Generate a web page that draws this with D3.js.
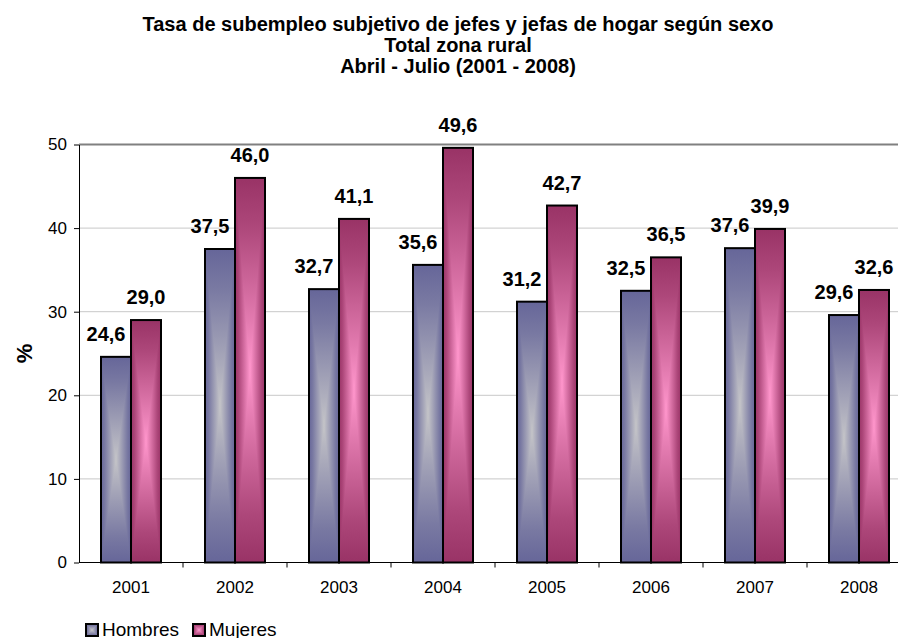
<!DOCTYPE html>
<html>
<head>
<meta charset="utf-8">
<script src="https://cdn.jsdelivr.net/npm/d3@7"></script>
<style>
  body { margin: 0; background: #fff; }
  svg { display: block; font-family: "Liberation Sans", Arial, sans-serif; }
</style>
</head>
<body>
<svg id="chart" width="898" height="638"></svg>
<script>
var years = ["2001", "2002", "2003", "2004", "2005", "2006", "2007", "2008"];
var hombres = [24.6, 37.5, 32.7, 35.6, 31.2, 32.5, 37.6, 29.6];
var mujeres = [29.0, 46.0, 41.1, 49.6, 42.7, 36.5, 39.9, 32.6];
var seriesNames = ["Hombres", "Mujeres"];
var yTicks = [0, 10, 20, 30, 40, 50];
var titleLines = [
  "Tasa de subempleo subjetivo de jefes y jefas de hogar según sexo",
  "Total zona rural",
  "Abril - Julio (2001 - 2008)"
];

var colors = {
  Hombres: { edge: "#666699", center: "#c4c4c8" },
  Mujeres: { edge: "#993366", center: "#ff96cc" }
};

var svg = d3.select("#chart");
var defs = svg.append("defs");

var plotLeft = 79, plotTop = 144.5, plotBottom = 562.5, bandW = 104;

var x0 = d3.scaleBand().domain(years).range([plotLeft, plotLeft + bandW * years.length]);
var x1 = d3.scaleBand().domain(seriesNames).range([22, 82]);
var y = d3.scaleLinear().domain([0, 50]).range([plotBottom, plotTop]);

// gradients: each bar is split in 4 triangles going from edge to center
var dirs = {
  t: [0, 0, 0, 1], b: [0, 1, 0, 0], l: [0, 0, 1, 0], r: [1, 0, 0, 0]
};
seriesNames.forEach(function(s) {
  Object.keys(dirs).forEach(function(k) {
    var d = dirs[k];
    var g = defs.append("linearGradient")
      .attr("id", "g-" + s + "-" + k)
      .attr("x1", d[0]).attr("y1", d[1]).attr("x2", d[2]).attr("y2", d[3]);
    g.append("stop").attr("offset", 0).attr("stop-color", colors[s].edge);
    g.append("stop").attr("offset", 0.25).attr("stop-color", d3.interpolateRgb(colors[s].edge, colors[s].center)(0.2));
    g.append("stop").attr("offset", 1).attr("stop-color", colors[s].center);
  });
});

function shadedBox(g, s, bx, by, bw, bh) {
  var cx = bx + bw / 2, cy = by + bh / 2;
  var tris = {
    t: [[bx, by], [bx + bw, by], [cx, cy]],
    b: [[bx, by + bh], [bx + bw, by + bh], [cx, cy]],
    l: [[bx, by], [bx, by + bh], [cx, cy]],
    r: [[bx + bw, by], [bx + bw, by + bh], [cx, cy]]
  };
  g.append("rect").attr("x", bx).attr("y", by).attr("width", bw).attr("height", bh)
    .attr("fill", colors[s].edge);
  Object.keys(tris).forEach(function(k) {
    g.append("path")
      .attr("d", "M" + tris[k].map(function(p) { return p.join(","); }).join("L") + "Z")
      .attr("fill", "url(#g-" + s + "-" + k + ")")
      .attr("shape-rendering", "crispEdges");
  });
  g.append("rect").attr("x", bx).attr("y", by).attr("width", bw).attr("height", bh)
    .attr("fill", "none").attr("stroke", "#000").attr("stroke-width", 2);
}

// title
svg.append("g").selectAll("text")
  .data(titleLines)
  .enter().append("text")
  .attr("x", 458)
  .attr("y", function(d, i) { return 31 + i * 21; })
  .attr("text-anchor", "middle")
  .attr("font-size", 20)
  .attr("font-weight", "bold")
  .text(function(d) { return d; });

// grid
var xEnd = x0.range()[1];
svg.append("g").selectAll("line")
  .data(yTicks.filter(function(t) { return t > 0; }))
  .enter().append("line")
  .attr("x1", plotLeft).attr("x2", xEnd)
  .attr("y1", function(d) { return y(d); })
  .attr("y2", function(d) { return y(d); })
  .attr("stroke", function(d) { return d === 50 ? "#808080" : "#c8c8c8"; })
  .attr("stroke-width", function(d) { return d === 50 ? 2 : 1; });

// bars
var table = years.map(function(yr, i) {
  return { year: yr, values: [
    { s: "Hombres", v: hombres[i] },
    { s: "Mujeres", v: mujeres[i] }
  ]};
});

var groups = svg.append("g").selectAll("g")
  .data(table)
  .enter().append("g")
  .attr("transform", function(d) { return "translate(" + x0(d.year) + ",0)"; });

groups.each(function(d) {
  var g = d3.select(this);
  d.values.forEach(function(e) {
    shadedBox(g, e.s, x1(e.s), y(e.v), x1.bandwidth(), y(0) - y(e.v));
  });
});

// value labels
groups.selectAll("text.val")
  .data(function(d) { return d.values; })
  .enter().append("text")
  .attr("class", "val")
  .attr("x", function(e) { return x1(e.s) + x1.bandwidth() / 2 + (e.s === "Hombres" ? -10 : 0); })
  .attr("y", function(e) { return y(e.v) - 16; })
  .attr("text-anchor", "middle")
  .attr("font-size", 20)
  .attr("font-weight", "bold")
  .text(function(e) { return d3.format(".1f")(e.v).replace(".", ","); });

// y axis
var yAxis = d3.axisLeft(y).tickValues(yTicks).tickSize(5).tickSizeOuter(0).tickPadding(7);
var ya = svg.append("g").attr("transform", "translate(" + plotLeft + ",0)").call(yAxis);
ya.selectAll("text").attr("font-size", 17).attr("font-family", "Liberation Sans, Arial, sans-serif").attr("fill", "#000");
ya.select(".domain").attr("stroke", "#000");
ya.selectAll(".tick line").attr("stroke", "#000");

svg.append("text")
  .attr("transform", "translate(32," + ((plotTop + plotBottom) / 2) + ") rotate(-90)")
  .attr("text-anchor", "middle")
  .attr("font-size", 22)
  .attr("font-weight", "bold")
  .text("%");

// x axis
var xa = svg.append("g");
xa.append("line").attr("x1", plotLeft).attr("x2", xEnd).attr("y1", plotBottom).attr("y2", plotBottom)
  .attr("stroke", "#000");
xa.selectAll("line.tk")
  .data(years.slice(1))
  .enter().append("line")
  .attr("class", "tk")
  .attr("x1", function(d) { return x0(d); }).attr("x2", function(d) { return x0(d); })
  .attr("y1", plotBottom).attr("y2", plotBottom + 5)
  .attr("stroke", "#000");
xa.selectAll("text")
  .data(years)
  .enter().append("text")
  .attr("x", function(d) { return x0(d) + x0.bandwidth() / 2; })
  .attr("y", 593)
  .attr("text-anchor", "middle")
  .attr("font-size", 17)
  .text(function(d) { return d; });

// legend
var legX = [86, 193];
var leg = svg.append("g");
seriesNames.forEach(function(s, i) {
  var lg = leg.append("g");
  shadedBox(lg, s, legX[i], 624, 12, 12);
  lg.append("text")
    .attr("x", legX[i] + 16)
    .attr("y", 636)
    .attr("font-size", 19)
    .text(s);
});
</script>
</body>
</html>
